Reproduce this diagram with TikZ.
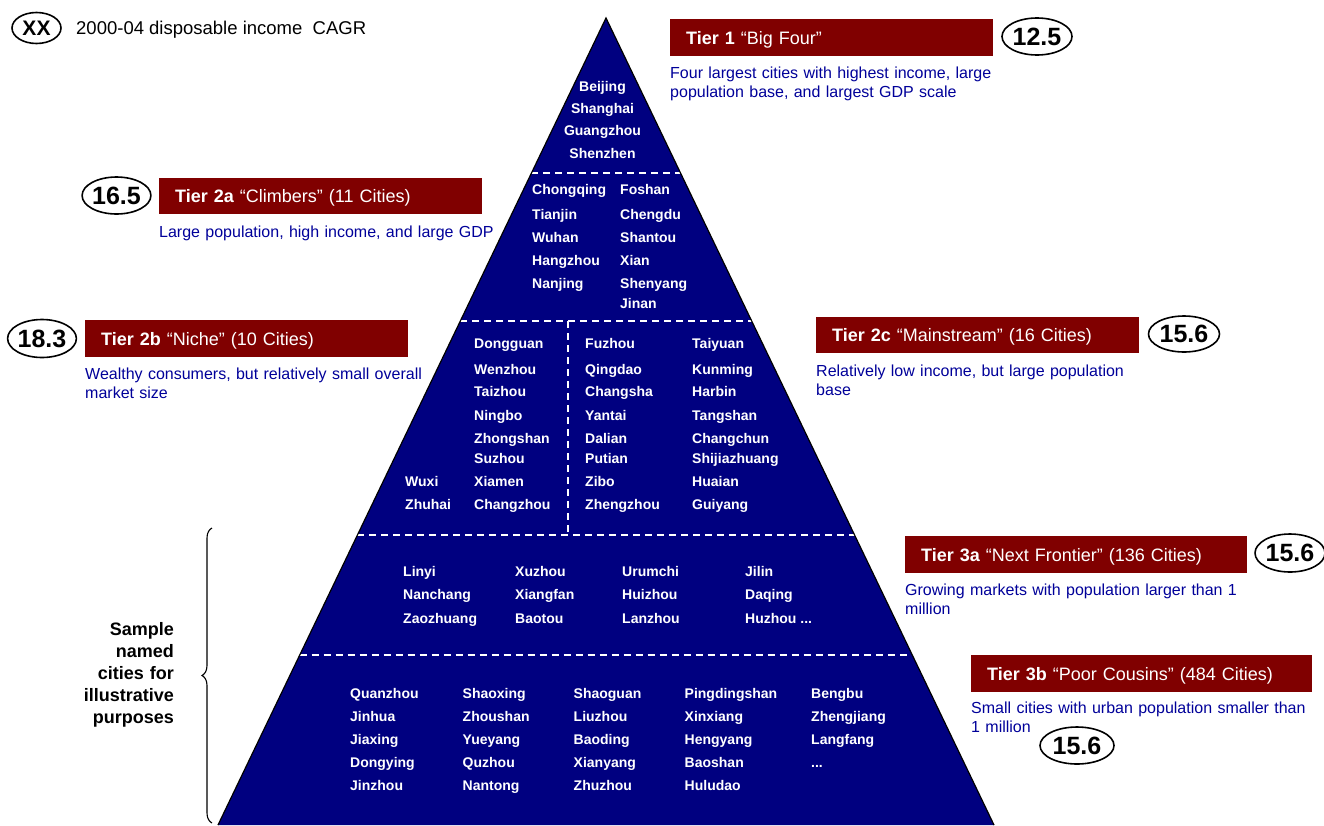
\documentclass[tikz,border=0pt]{standalone}
\usepackage{fontspec}
\setmainfont{Liberation Sans}
\usetikzlibrary{shapes.geometric,calc,decorations.pathreplacing}
\definecolor{pyrnavy}{RGB}{0,0,128}
\definecolor{tierred}{RGB}{128,0,0}
\definecolor{descblue}{RGB}{0,0,153}
\newcommand{\fsz}[2]{\fontsize{#1}{#2}\selectfont}
\newcommand{\morecities}{.\kern0pt.\kern0pt.}

\begin{document}
\begin{tikzpicture}[x=1pt,y=-1pt,
  city/.style={text=white,font=\fsz{14}{16}\bfseries,inner sep=0pt,anchor=base west},
  tierbox/.style={fill=tierred,text=white,font=\fsz{18}{20},anchor=north west,
    inner xsep=16pt,inner ysep=0pt,text height=13pt,text depth=0pt,align=left},
  desc/.style={text=descblue,font=\fsz{16}{19.5},anchor=base west,inner sep=0pt,
    align=left,text width=360pt},
  cagr/.style={ellipse,draw=black,fill=white,line width=1.6pt,inner sep=0pt,
    font=\fsz{25}{27}\bfseries},
  tierline/.style={white,line width=2.2pt,dash pattern=on 7pt off 5pt},
]
\useasboundingbox (0,0) rectangle (1324,825);

% legend
\node[cagr,minimum width=49pt,minimum height=31pt,font=\fsz{21}{23}\bfseries] (legend) at (36.5,28) {XX};
\node[anchor=base west,inner sep=0pt,font=\fsz{18.5}{21}] (legendtext) at (76,34) {2000-04 disposable income\ \ CAGR};

% pyramid body
\coordinate (apex) at (606,18);
\coordinate (bl) at (218,825);
\coordinate (br) at (994,825);
\fill[pyrnavy] (apex) -- (br) -- (bl) -- cycle;

% tier separators
\coordinate (l1) at ($(apex)!0.19207!(bl)$); \coordinate (r1) at ($(apex)!0.19207!(br)$);
\coordinate (l2) at ($(apex)!0.37546!(bl)$); \coordinate (r2) at ($(apex)!0.37546!(br)$);
\coordinate (l3) at ($(apex)!0.64064!(bl)$); \coordinate (r3) at ($(apex)!0.64064!(br)$);
\coordinate (l4) at ($(apex)!0.78934!(bl)$); \coordinate (r4) at ($(apex)!0.78934!(br)$);
\coordinate (vtop) at (568,321);
\coordinate (vbot) at (568,535);
\draw[tierline] (l1) -- (r1);
\draw[tierline] (l2) -- (r2);
\draw[tierline] (l3) -- (r3);
\draw[tierline] (l4) -- (r4);
\draw[tierline] (vtop) -- (vbot);
\draw[line width=1.2pt] (bl) -- (apex) -- (br);

% tier 1 cities
\foreach \n/\cy [count=\i] in {Beijing/91,Shanghai/113,Guangzhou/135,Shenzhen/158}
  \node[city,anchor=base] (one-\i) at (602.5,\cy) {\n};

% tier 2a cities
\foreach \n/\cy [count=\i] in {Chongqing/194,Tianjin/219,Wuhan/242,Hangzhou/265,Nanjing/288}
  \node[city] (twoa-l-\i) at (532,\cy) {\n};
\foreach \n/\cy [count=\i] in {Foshan/194,Chengdu/219,Shantou/242,Xian/265,Shenyang/288,Jinan/308}
  \node[city] (twoa-r-\i) at (620,\cy) {\n};

% tier 2b cities
\foreach \n/\cy [count=\i] in {Dongguan/348,Wenzhou/374,Taizhou/396,Ningbo/420,Zhongshan/443,Suzhou/463,Xiamen/486,Changzhou/509}
  \node[city] (twob-r-\i) at (474,\cy) {\n};
\foreach \n/\cy [count=\i] in {Wuxi/486,Zhuhai/509}
  \node[city] (twob-l-\i) at (405,\cy) {\n};

% tier 2c cities
\foreach \n/\cy [count=\i] in {Fuzhou/348,Qingdao/374,Changsha/396,Yantai/420,Dalian/443,Putian/463,Zibo/486,Zhengzhou/509}
  \node[city] (twoc-l-\i) at (585,\cy) {\n};
\foreach \n/\cy [count=\i] in {Taiyuan/348,Kunming/374,Harbin/396,Tangshan/420,Changchun/443,Shijiazhuang/463,Huaian/486,Guiyang/509}
  \node[city] (twoc-r-\i) at (692,\cy) {\n};

% tier 3a cities
\foreach \cx/\names [count=\c] in {403/{Linyi,Nanchang,Zaozhuang},515/{Xuzhou,Xiangfan,Baotou},622/{Urumchi,Huizhou,Lanzhou},745/{Jilin,Daqing,Huzhou \morecities}}
  \foreach \n [count=\r] in \names
    \node[city] (threea-\c-\r) at (\cx,{576+23.5*(\r-1)}) {\n};

% tier 3b cities
\foreach \cx/\names [count=\c] in {350/{Quanzhou,Jinhua,Jiaxing,Dongying,Jinzhou},462.5/{Shaoxing,Zhoushan,Yueyang,Quzhou,Nantong},573.5/{Shaoguan,Liuzhou,Baoding,Xianyang,Zhuzhou},684.5/{Pingdingshan,Xinxiang,Hengyang,Baoshan,Huludao},811/{Bengbu,Zhengjiang,Langfang,\morecities}}
  \foreach \n [count=\r] in \names
    \node[city] (threeb-\c-\r) at (\cx,{698+23*(\r-1)}) {\n};

% tier labels, descriptions and growth figures
\node[tierbox,minimum width=323pt,minimum height=37pt,text width=291pt] (t1) at (670,19) {{\bfseries Tier 1} “Big Four”};
\node[desc] (d1) at (670,78) {Four largest cities with highest income, large\\population base, and largest GDP scale};
\node[cagr,minimum width=70pt,minimum height=37pt] (g1) at (1037,36.5) {12.5};

\node[tierbox,minimum width=323pt,minimum height=36pt,text width=291pt] (t2a) at (159,178) {{\bfseries Tier 2a} “Climbers” (11 Cities)};
\node[desc] (d2a) at (159,237) {Large population, high income, and large GDP};
\node[cagr,minimum width=68pt,minimum height=37pt] (g2a) at (116.5,195.5) {16.5};

\node[tierbox,minimum width=323pt,minimum height=37pt,text width=291pt] (t2b) at (85,320) {{\bfseries Tier 2b} “Niche” (10 Cities)};
\node[desc] (d2b) at (85,379) {Wealthy consumers, but relatively small overall\\market size};
\node[cagr,minimum width=64pt,minimum height=38pt] (g2b) at (42,338.5) {18.3};

\node[tierbox,minimum width=323pt,minimum height=36pt,text width=291pt] (t2c) at (816,317) {{\bfseries Tier 2c} “Mainstream” (16 Cities)};
\node[desc] (d2c) at (816,376) {Relatively low income, but large population\\base};
\node[cagr,minimum width=71pt,minimum height=36pt] (g2c) at (1184,334) {15.6};

\node[tierbox,minimum width=342pt,minimum height=37pt,text width=310pt] (t3a) at (905,536) {{\bfseries Tier 3a} “Next Frontier” (136 Cities)};
\node[desc] (d3a) at (905,595) {Growing markets with population larger than 1\\million};
\node[cagr,minimum width=70pt,minimum height=38pt] (g3a) at (1290,553) {15.6};

\node[tierbox,minimum width=341pt,minimum height=37pt,text width=309pt] (t3b) at (971,655) {{\bfseries Tier 3b} “Poor Cousins” (484 Cities)};
\node[desc] (d3b) at (971,713) {Small cities with urban population smaller than\\1 million};
\node[cagr,minimum width=74pt,minimum height=37pt] (g3b) at (1077,745.5) {15.6};

% bracket for the sample cities
\coordinate (bracebot) at (212,823);
\coordinate (bracetop) at (212,528);
\draw[line width=1.1pt,decorate,decoration={brace,amplitude=10pt}] (bracebot) -- (bracetop);
\node[anchor=base east,inner sep=0pt,align=right,text width=110pt,font=\fsz{18}{22}\bfseries] (sample) at (174,635) {Sample\\named\\cities for\\illustrative\\purposes};

\end{tikzpicture}
\end{document}
